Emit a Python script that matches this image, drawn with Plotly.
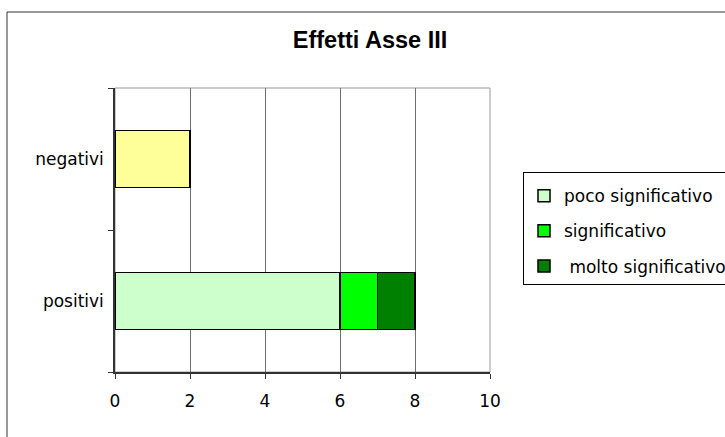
import plotly.graph_objects as go

categories = ["positivi", "negativi"]
series_names = ["poco significativo", "significativo", " molto significativo"]
poco = [6, 2]
significativo = [1, None]
molto = [1, None]
poco_colors = ["#CCFFCC", "#FFFF99"]
sig_color = "#00FF00"
molto_color = "#008000"
x_ticks = [0, 2, 4, 6, 8, 10]

body_font = dict(family="DejaVu Sans", size=17, color="#000000")

fig = go.Figure()
fig.add_trace(go.Bar(y=categories, x=poco, orientation="h", name=series_names[0],
                     legendgroup="a",
                     marker=dict(color=poco_colors, line=dict(color="#000000", width=1.5))))
fig.add_trace(go.Bar(y=categories, x=significativo, orientation="h", name=series_names[1],
                     legendgroup="b",
                     marker=dict(color=sig_color, line=dict(color="#000000", width=1.5))))
fig.add_trace(go.Bar(y=categories, x=molto, orientation="h", name=series_names[2],
                     legendgroup="c",
                     marker=dict(color=molto_color, line=dict(color="#000000", width=1.5))))

# outer chart border and plot-area border
fig.add_shape(type="rect", xref="paper", yref="paper",
              x0=(7 - 115) / 375, x1=(740 - 115) / 375,
              y0=(372 - 445) / 284, y1=(372 - 12) / 284,
              line=dict(color="#333333", width=1), layer="below")
fig.add_shape(type="rect", xref="paper", yref="paper", x0=0, x1=1, y0=0, y1=1,
              line=dict(color="#999999", width=1), layer="below")

fig.update_layout(
    width=725, height=437,
    margin=dict(l=115, r=235, t=88, b=65, autoexpand=False),
    paper_bgcolor="#FFFFFF", plot_bgcolor="#FFFFFF",
    barmode="stack", bargap=0.6,
    showlegend=True,
    title=dict(text="<b>Effetti Asse III</b>", x=370 / 725, xref="container", xanchor="center",
               y=1 - 40 / 437, yref="container", yanchor="middle",
               font=dict(family="Liberation Sans", size=23.5, color="#000000")),
    legend=dict(x=523 / 725, xanchor="left", y=1 - 172 / 437, yanchor="top",
                xref="container", yref="container",
                bordercolor="#000000", borderwidth=1, bgcolor="#FFFFFF",
                font=dict(family="DejaVu Sans", size=17, color="#000000"),
                title=dict(text=" ", font=dict(size=4)),
                traceorder="grouped", tracegroupgap=10, itemwidth=30),
    xaxis=dict(range=[0, 10], tickvals=x_ticks, ticktext=[str(v) for v in x_ticks],
               showgrid=True, gridcolor="#6E6E6E", gridwidth=1,
               showline=True, linecolor="#333333", linewidth=1.5,
               ticks="outside", ticklen=5, tickcolor="#333333",
               ticklabelstandoff=8, tickfont=body_font, zeroline=False),
    yaxis=dict(type="category", categoryorder="array", categoryarray=categories,
               showgrid=False, showline=True, linecolor="#333333", linewidth=1.5,
               ticks="outside", ticklen=5, tickcolor="#333333", tickson="boundaries",
               ticklabelstandoff=6, tickfont=body_font),
)

fig.write_html("out.html", config={"displayModeBar": False},
               post_script="document.body.style.margin='0';")
